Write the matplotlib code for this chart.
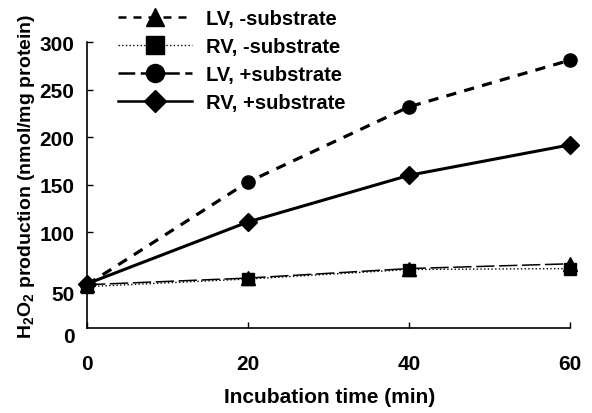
import matplotlib
matplotlib.use("Agg")
import matplotlib.pyplot as plt
from matplotlib.lines import Line2D

plt.rcParams['font.family'] = ['Liberation Sans', 'DejaVu Sans']
plt.rcParams['font.weight'] = 'bold'
plt.rcParams['mathtext.fontset'] = 'custom'
plt.rcParams['mathtext.rm'] = 'Liberation Sans:bold'
plt.rcParams['mathtext.it'] = 'Liberation Sans:bold'
plt.rcParams['mathtext.bf'] = 'Liberation Sans:bold'

# data
time = [0, 20, 40, 60]
lv_minus = [45, 52, 62, 67]
rv_minus = [43, 51, 61, 62]
lv_plus = [45, 153, 232, 281]
rv_plus = [46, 111, 160, 192]

labels = ["LV, -substrate", "RV, -substrate", "LV, +substrate", "RV, +substrate"]
xticks = [0, 20, 40, 60]
ytick_pos = [-7, 37, 100, 150, 200, 250, 300]
ytick_lab = ["0", "50", "100", "150", "200", "250", "300"]

fig = plt.figure(figsize=(5.92, 4.14), dpi=100)
ax = fig.add_axes([0.147, 0.188, 0.816, 0.708])

ax.plot(time, lv_minus, color='black', lw=1.1, dashes=(12, 3), marker='^', ms=10, clip_on=False)
ax.plot(time, rv_minus, color='black', lw=1.0, ls=':', marker='s', ms=8, clip_on=False)
ax.plot(time, lv_plus, color='black', lw=2.3, dashes=(3.2, 2.6), marker='o', ms=9.5, clip_on=False)
ax.plot(time, rv_plus, color='black', lw=2.2, marker='D', ms=9.5, clip_on=False)

ax.set_xlim(0, 60)
ax.set_ylim(-8, 300)
ax.spines['top'].set_visible(False)
ax.spines['right'].set_visible(False)
ax.spines['bottom'].set_position(('data', 0))
ax.spines['left'].set_bounds(0, 300)
ax.spines['left'].set_linewidth(1.2)
ax.spines['bottom'].set_linewidth(1.2)

ax.set_xticks(xticks)
ax.set_xticklabels([str(t) for t in xticks])
ax.set_yticks(ytick_pos)
ax.set_yticklabels(ytick_lab)
ax.tick_params(axis='both', direction='in', length=4, width=1, labelsize=15)
ax.tick_params(axis='x', pad=19)
ax.tick_params(axis='y', pad=9)
for t in ax.yaxis.get_major_ticks()[:2]:
    t.tick1line.set_visible(False)

fig.text(0.557, 0.04, "Incubation time (min)", ha='center', va='center', fontsize=15, fontweight='bold')
fig.text(0.044, 0.575, r"H$_2$O$_2$ production (nmol/mg protein)", ha='center', va='center',
         rotation=90, fontsize=14, fontweight='bold')

# legend (styles as shown in the original key)
handles = [
    Line2D([], [], color='black', lw=1.8, dashes=(3.2, 2.8), marker='^', ms=13),
    Line2D([], [], color='black', lw=1.0, ls=':', marker='s', ms=12.5),
    Line2D([], [], color='black', lw=1.8, dashes=(6.7, 2.2), marker='o', ms=13),
    Line2D([], [], color='black', lw=1.8, marker='D', ms=11.5),
]
fig.legend(handles, labels, loc='upper left', bbox_to_anchor=(0.185, 0.995), frameon=False,
           fontsize=14.5, handlelength=3.7, handletextpad=0.7, labelspacing=0.44, borderaxespad=0)

fig.savefig("out.png", dpi=100)
